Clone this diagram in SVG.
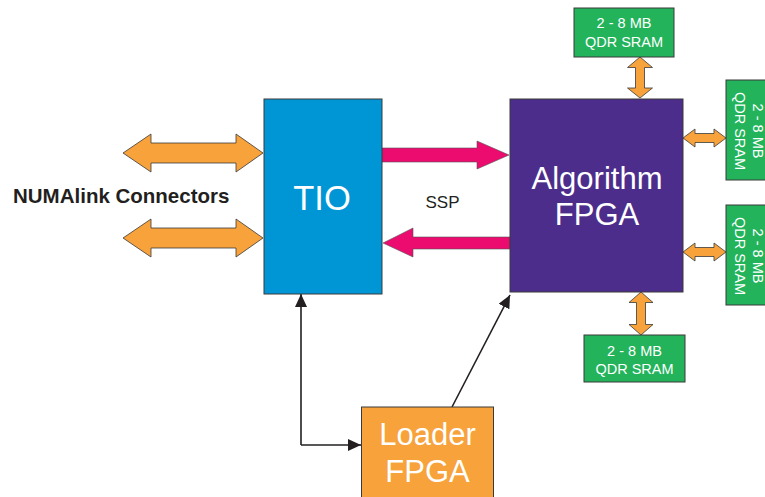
<svg xmlns="http://www.w3.org/2000/svg" width="765" height="497" viewBox="0 0 765 497">
  <style>
    .box { stroke: #3a3a3a; stroke-width: 1; }
    .tio { fill: #0096d6; }
    .algo { fill: #4c2d8c; }
    .loader { fill: #f7a23b; }
    .sram { fill: #22b35b; }
    .bus { fill: #f7a23b; stroke: #3a3a3a; stroke-width: 0.8; stroke-linejoin: miter; }
    .ssp { fill: #ec0b6e; stroke: #555; stroke-width: 0.6; }
    .wire { fill: none; stroke: #231f20; stroke-width: 1.6; }
    .big { font-family: "Liberation Sans", Arial, sans-serif; fill: #ffffff; text-anchor: middle; }
    .small { font-family: "Liberation Sans", Arial, sans-serif; fill: #ffffff; font-size: 14.5px; text-anchor: middle; }
    .label { font-family: "Liberation Sans", Arial, sans-serif; fill: #231f20; }
  </style>
  <defs>
    <marker id="tip" markerUnits="userSpaceOnUse" markerWidth="14" markerHeight="12" refX="13" refY="6" orient="auto">
      <path d="M0,0 L13,6 L0,12 Z" fill="#231f20"/>
    </marker>
  </defs>

  <rect width="765" height="497" fill="#ffffff"/>

  <g id="connectors">
    <!-- NUMAlink buses -->
    <polygon class="bus" points="123,153 151,134 151,143 236,143 236,134 263,153 236,172 236,163 151,163 151,172"/>
    <polygon class="bus" points="123,238 151,219 151,228 236,228 236,219 263,238 236,257 236,248 151,248 151,257"/>
    <!-- SSP links -->
    <polygon class="ssp" points="382,148 477,148 477,141 509,155 477,169 477,162 382,162"/>
    <polygon class="ssp" points="510,237 413,237 413,228 383,243 413,257 413,249 510,249"/>
    <!-- memory buses -->
    <polygon class="bus" points="640,57 652.5,67.5 644.5,67.5 644.5,88 652.5,88 640,98 627.5,88 635.5,88 635.5,67.5 627.5,67.5"/>
    <polygon class="bus" points="641,292 653,302.5 645.5,302.5 645.5,324.5 653,324.5 641,335 629,324.5 636.5,324.5 636.5,302.5 629,302.5"/>
    <polygon class="bus" points="683,138 695,129 695,133.5 714,133.5 714,129 726,138 714,147 714,142.5 695,142.5 695,147"/>
    <polygon class="bus" points="683,252 695,243 695,247.5 714,247.5 714,243 726,252 714,261 714,256.5 695,256.5 695,261"/>
    <!-- loader wiring -->
    <polyline class="wire" points="301,445 301,294" marker-end="url(#tip)"/>
    <polyline class="wire" points="301,445 361,445" marker-end="url(#tip)"/>
    <line class="wire" x1="452" y1="407" x2="510" y2="295" marker-end="url(#tip)"/>
  </g>

  <g id="numalink">
    <text class="label" x="13" y="203" font-size="20.5" font-weight="bold">NUMAlink Connectors</text>
  </g>

  <g id="ssp-label">
    <text class="label" x="442.5" y="208" font-size="17" text-anchor="middle">SSP</text>
  </g>

  <g id="tio">
    <rect class="box tio" x="264" y="99" width="118" height="195"/>
    <text class="big" x="322" y="210" font-size="34.5">TIO</text>
  </g>

  <g id="algorithm-fpga">
    <rect class="box algo" x="510" y="99" width="173" height="193"/>
    <text class="big" x="597" y="189" font-size="31">Algorithm</text>
    <text class="big" x="597" y="225" font-size="31">FPGA</text>
  </g>

  <g id="loader-fpga">
    <rect class="box loader" x="361.5" y="407" width="132" height="100"/>
    <text class="big" x="427.5" y="445" font-size="31">Loader</text>
    <text class="big" x="427.5" y="482" font-size="31">FPGA</text>
  </g>

  <g id="sram-top">
    <rect class="box sram" x="574" y="8" width="100" height="49"/>
    <text class="small" x="624" y="28">2 - 8 MB</text>
    <text class="small" x="624" y="47">QDR SRAM</text>
  </g>

  <g id="sram-bottom">
    <rect class="box sram" x="584" y="335" width="101" height="47"/>
    <text class="small" x="634.5" y="356">2 - 8 MB</text>
    <text class="small" x="634.5" y="374">QDR SRAM</text>
  </g>

  <g id="sram-right-1">
    <rect class="box sram" x="726" y="80" width="49" height="100"/>
    <g transform="translate(744,131) rotate(90)">
      <text class="small" x="0" y="-9">2 - 8 MB</text>
      <text class="small" x="0" y="9">QDR SRAM</text>
    </g>
  </g>

  <g id="sram-right-2">
    <rect class="box sram" x="726" y="205" width="49" height="100"/>
    <g transform="translate(744,256) rotate(90)">
      <text class="small" x="0" y="-9">2 - 8 MB</text>
      <text class="small" x="0" y="9">QDR SRAM</text>
    </g>
  </g>
</svg>
